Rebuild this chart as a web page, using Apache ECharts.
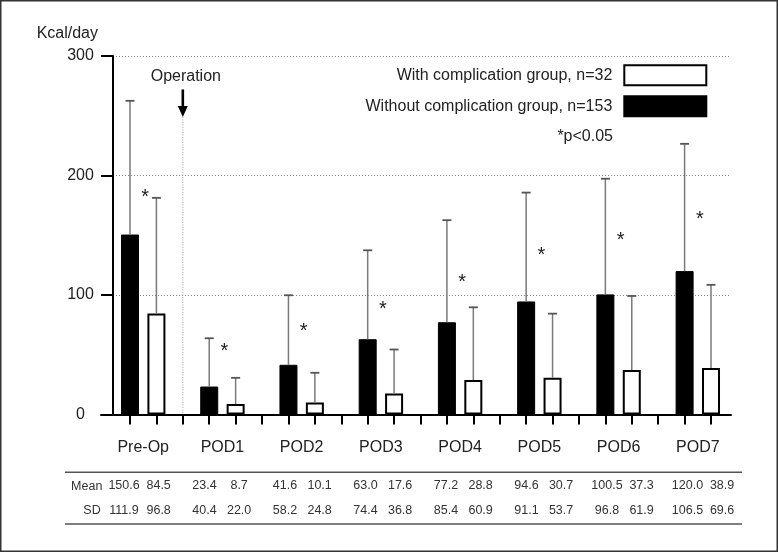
<!DOCTYPE html>
<html><head><meta charset="utf-8">
<script src="https://cdn.jsdelivr.net/npm/echarts@6/dist/echarts.min.js"></script>
<style>html,body{margin:0;padding:0;background:#fff}#c{width:778px;height:552px}</style>
</head><body><div id="c"></div>
<script>
// ---- data ----
const categories = ['Pre-Op', 'POD1', 'POD2', 'POD3', 'POD4', 'POD5', 'POD6', 'POD7'];
const meanWithout = [150.6, 23.4, 41.6, 63.0, 77.2, 94.6, 100.5, 120.0];
const sdWithout = [111.9, 40.4, 58.2, 74.4, 85.4, 91.1, 96.8, 106.5];
const meanWith = [84.5, 8.7, 10.1, 17.6, 28.8, 30.7, 37.3, 38.9];
const sdWith = [96.8, 22.0, 24.8, 36.8, 60.9, 53.7, 61.9, 69.6];
const asteriskLevel = [186, 57, 74, 92, 115, 137, 150, 167];
const yTicks = [0, 100, 200, 300];
const rowLabels = ['Mean', 'SD'];
const nameWithout = 'Without complication group, n=153';
const nameWith = 'With complication group, n=32';
const unitLabel = 'Kcal/day';
const noteLabel = '*p<0.05';
const operation = { slot: 2, label: 'Operation', arrowTop: 272, arrowTip: 249, labelLevel: 283 };

// ---- derived ----
const FONT = 'Liberation Sans, Arial, Helvetica, sans-serif';
const slotsPerGroup = 3;
const blackSlot = g => g * slotsPerGroup;
const whiteSlot = g => g * slotsPerGroup + 1;
const allTicks = [];
for (let i = 0; i < categories.length * slotsPerGroup - 1; i++) allTicks.push(i);
const labelPos = categories.map((c, g) => g * slotsPerGroup + 0.5);

const barsWithout = meanWithout.map((v, g) => [blackSlot(g), v]);
const barsWith = meanWith.map((v, g) => [whiteSlot(g), v]);
const errData = meanWithout.map((v, g) => [blackSlot(g), v, sdWithout[g]])
  .concat(meanWith.map((v, g) => [whiteSlot(g), v, sdWith[g]]));
const starData = asteriskLevel.map((v, g) => [g * slotsPerGroup + 0.5, v]);
const tableData = [];
categories.forEach((c, g) => {
  tableData.push([blackSlot(g), 0, meanWithout[g], 0]);
  tableData.push([whiteSlot(g), 0, meanWith[g], 1]);
  tableData.push([blackSlot(g), 1, sdWithout[g], 0]);
  tableData.push([whiteSlot(g), 1, sdWith[g], 1]);
});

const chart = echarts.init(document.getElementById('c'), null, { renderer: 'canvas' });

function renderErr(params, api) {
  const x = api.value(0), m = api.value(1), s = api.value(2);
  const p0 = api.coord([x, m]), p1 = api.coord([x, m + s]);
  return { type: 'group', children: [
    { type: 'line', shape: { x1: p0[0], y1: p0[1], x2: p1[0], y2: p1[1] }, style: { stroke: '#7a7a7a', lineWidth: 1.5 } },
    { type: 'line', shape: { x1: p1[0] - 4.5, y1: p1[1], x2: p1[0] + 4.5, y2: p1[1] }, style: { stroke: '#555', lineWidth: 1.8 } }
  ]};
}
function renderStar(params, api) {
  const p = api.coord([api.value(0), api.value(1)]);
  return { type: 'text', x: p[0] + 2, y: p[1] + 5, style: { text: '*', fontSize: 20, fontFamily: FONT, fill: '#222', align: 'center', verticalAlign: 'middle' } };
}
function renderOperation(params, api) {
  const s = api.value(0);
  const tip = api.coord([s, operation.arrowTip]);
  const top = api.coord([s, operation.arrowTop]);
  const base = api.coord([s, 0]);
  const lab = api.coord([s, operation.labelLevel]);
  const x = tip[0];
  return { type: 'group', children: [
    { type: 'line', shape: { x1: x, y1: tip[1], x2: x, y2: base[1] }, style: { stroke: '#a0a0a0', lineWidth: 1, lineDash: [1, 1.5] } },
    { type: 'line', shape: { x1: x, y1: top[1], x2: x, y2: tip[1] - 9 }, style: { stroke: '#000', lineWidth: 2.6 } },
    { type: 'polygon', shape: { points: [[x - 5, tip[1] - 11], [x + 5, tip[1] - 11], [x, tip[1]]] }, style: { fill: '#000' } },
    { type: 'text', x: x + 3, y: lab[1], style: { text: operation.label, fontSize: 16, fontFamily: FONT, fill: '#222', align: 'center', verticalAlign: 'middle' } }
  ]};
}
function renderTable(params, api) {
  const isWhite = api.value(3) === 1;
  const p = api.coord([api.value(0) + (isWhite ? 0.29 : 0), api.value(1)]);
  return { type: 'text', x: p[0], y: p[1], style: { text: api.value(2).toFixed(1), fontSize: 12.5, fontFamily: FONT, fill: '#333', align: 'center', verticalAlign: 'middle' } };
}

chart.setOption({
  animation: false,
  backgroundColor: '#fff',
  textStyle: { fontFamily: FONT },
  grid: [
    { left: 101, right: 47, top: 56, bottom: 137.5 },
    { left: 97.2, right: 36.9, top: 486, bottom: 41.3 }
  ],
  xAxis: [{
    type: 'value', gridIndex: 0, min: -1.098, max: 22.757,
    axisLine: { onZero: false, lineStyle: { color: '#000', width: 2 } },
    axisTick: { show: true, customValues: allTicks, length: 10, inside: false, lineStyle: { color: '#000', width: 2 } },
    axisLabel: { customValues: labelPos, margin: 25, fontSize: 16, color: '#222', fontFamily: FONT,
      formatter: v => categories[Math.round((v - 0.5) / slotsPerGroup)] },
    splitLine: { show: false }
  }, {
    type: 'value', gridIndex: 1, min: -1, max: 23, show: false
  }],
  yAxis: [{
    type: 'value', gridIndex: 0, min: 0, max: 300, interval: 100, offset: -12,
    name: unitLabel, nameLocation: 'end', nameGap: 22,
    nameTextStyle: { fontSize: 16, color: '#222', align: 'right', verticalAlign: 'middle', padding: [0, 15, 0, 0], fontFamily: FONT },
    axisLine: { show: true, onZero: false, lineStyle: { color: '#000', width: 2 } },
    axisTick: { show: true, length: 12, inside: false, lineStyle: { color: '#000', width: 2 } },
    axisLabel: { margin: 32.5, align: 'center', fontSize: 16, color: '#222', fontFamily: FONT,
      customValues: yTicks },
    splitLine: { show: true, lineStyle: { color: '#8a8a8a', width: 1, type: [1, 2] } }
  }, {
    type: 'value', gridIndex: 1, min: 0, max: 1, inverse: true, show: false
  }],
  legend: {
    orient: 'vertical', right: 65.7, top: 59.3, align: 'right',
    itemWidth: 82, itemHeight: 20, itemGap: 9, icon: 'rect', selectedMode: false,
    data: [nameWith, nameWithout],
    textStyle: { fontSize: 16, color: '#222', fontFamily: FONT, lineHeight: 20, padding: [0, 7, 0, 0] }
  },
  series: [
    { name: nameWithout, type: 'bar', xAxisIndex: 0, yAxisIndex: 0, data: barsWithout, barWidth: 18, barGap: '-100%',
      itemStyle: { color: '#000', borderColor: '#000', borderWidth: 1 }, z: 3 },
    { name: nameWith, type: 'bar', xAxisIndex: 0, yAxisIndex: 0, data: barsWith, barWidth: 18, barGap: '-100%',
      itemStyle: { color: '#fff', borderColor: '#000', borderWidth: 2 }, z: 3 },
    { type: 'custom', xAxisIndex: 0, yAxisIndex: 0, data: errData, renderItem: renderErr, encode: { x: 0, y: 1 }, z: 4, silent: true },
    { type: 'custom', xAxisIndex: 0, yAxisIndex: 0, data: starData, renderItem: renderStar, encode: { x: 0, y: 1 }, z: 4, silent: true },
    { type: 'custom', xAxisIndex: 0, yAxisIndex: 0, data: [[operation.slot, 0]], renderItem: renderOperation, encode: { x: 0, y: 1 }, z: 2, silent: true },
    { type: 'custom', xAxisIndex: 1, yAxisIndex: 1, data: tableData, renderItem: renderTable, encode: { x: 0, y: 1 }, z: 4, silent: true }
  ],
  graphic: [
    { type: 'rect', shape: { x: 0.75, y: 0.75, width: 776.5, height: 550.5 }, style: { fill: 'none', stroke: '#333', lineWidth: 1.5 }, silent: true },
    { type: 'line', shape: { x1: 65, y1: 472.3, x2: 742, y2: 472.3 }, style: { stroke: '#555', lineWidth: 1.5 }, silent: true },
    { type: 'line', shape: { x1: 65, y1: 524, x2: 742, y2: 524 }, style: { stroke: '#555', lineWidth: 1.5 }, silent: true },
    { type: 'text', x: 86.7, y: 486.5, style: { text: rowLabels[0], fontSize: 12.5, fontFamily: FONT, fill: '#333', align: 'center', verticalAlign: 'middle' }, silent: true },
    { type: 'text', x: 92, y: 510.7, style: { text: rowLabels[1], fontSize: 12.5, fontFamily: FONT, fill: '#333', align: 'center', verticalAlign: 'middle' }, silent: true },
    { type: 'text', x: 613, y: 137, style: { text: noteLabel, fontSize: 16, fontFamily: FONT, fill: '#222', align: 'right', verticalAlign: 'middle' }, silent: true }
  ]
});
</script></body></html>
